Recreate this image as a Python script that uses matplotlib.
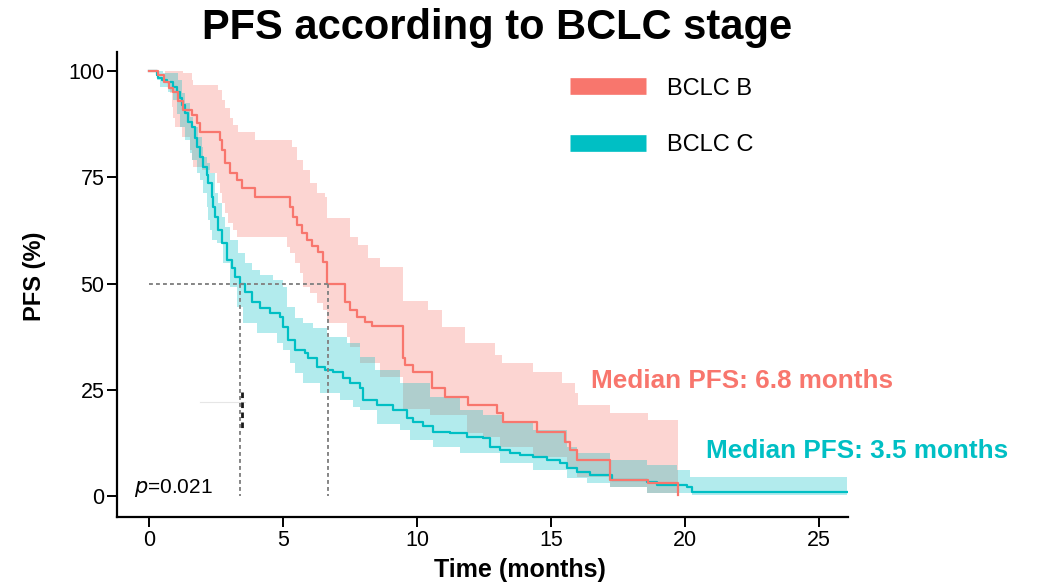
import numpy as np
import matplotlib
matplotlib.use("Agg")
import matplotlib.pyplot as plt
from matplotlib.lines import Line2D

plt.rcParams['font.family'] = ['Liberation Sans', 'DejaVu Sans']

RED = '#F8766D'
CYAN = '#00BFC4'

# ---- BCLC B (red) : survival step function ----
b_t = [0, 0.34, 0.55, 0.75, 0.9, 1.08, 1.27, 1.6, 1.79, 1.9, 2.65, 2.72, 2.84, 3.02, 3.28,
       3.47, 3.96, 5.26, 5.37, 5.52, 5.71, 5.9, 6.08, 6.31, 6.49, 6.66, 7.31, 7.5, 7.76,
       8.06, 8.32, 9.48, 9.55, 9.85, 10.56, 11.04, 11.9, 12.99, 13.2, 14.48, 15.52,
       15.71, 15.97, 17.2, 18.62, 19.74]
b_s = [100, 99, 97.5, 96, 95, 93, 90.8, 89.6, 87.8, 85.6, 83.8, 81.5, 78.4, 76, 74.4,
       72.5, 70.4, 68, 65.6, 63.8, 61.9, 60.2, 58.8, 57.4, 55.1, 50, 45.6, 43.8, 42.1,
       41, 40, 32.5, 30.8, 29.2, 25.4, 23.3, 21.4, 19.5, 17.4, 15.1, 12.7,
       10.8, 8.5, 3.8, 3.0, 0.2]

b_up_t = [0, 1.27, 1.6, 1.64, 2.57, 2.72, 2.84, 3.02, 3.13, 3.32, 3.96, 5.34, 5.52, 5.75,
          6.0, 6.27, 6.57, 6.64, 7.5, 7.8, 8.17, 8.62, 9.48, 10.41, 10.93, 11.79, 12.91,
          13.17, 14.33, 15.41, 15.9, 16.0, 17.2, 18.62]
b_up = [100, 99.5, 97.9, 96.7, 95.5, 93.2, 91.3, 89, 87.3, 85.6, 83.8, 82.1, 79, 76.7,
        73.6, 71.3, 70.4, 65.4, 61, 59, 56, 53.9, 46, 43.8, 39.8, 36, 33.2,
        31.3, 29.2, 26.6, 24.2, 21.5, 19.5, 17.9]

b_lo_t = [0, 0.6, 0.78, 0.86, 0.9, 0.97, 1.23, 1.53, 1.6, 1.64, 1.98, 2.28, 2.54, 2.65,
          2.72, 2.84, 2.95, 3.13, 3.28, 5.15, 5.26, 5.45, 5.63, 5.75, 6.0, 6.27, 6.49,
          6.64, 7.39, 7.5, 7.87, 8.62, 9.48, 10.49, 11.87, 12.46, 13.1, 14.33, 15.6,
          15.97, 17.2, 18.58]
b_lo = [100, 97.9, 94.8, 91.5, 89, 86.8, 84.5, 81.4, 79, 77.4, 76.7, 76, 73.6, 71.3,
        68.9, 66.6, 64.2, 62.6, 61, 58.6, 57.2, 54.8, 52.5, 49.2, 47.8, 45.4, 43.8,
        40.7, 37.4, 35, 31.3, 28, 20.5, 19, 14.8, 13.9, 11.5, 9.2, 6.8,
        4.5, 2.1, 0.7]
b_end = 19.74

# ---- BCLC C (cyan) : survival step function ----
c_t = [0, 0.3, 0.34, 0.49, 0.67, 0.9, 1.04, 1.16, 1.23, 1.34, 1.46, 1.6, 1.72, 1.79, 1.9,
       2.01, 2.16, 2.2, 2.35, 2.39, 2.46, 2.57, 2.72, 2.91, 3.1, 3.21, 3.4, 3.58, 3.84,
       4.14, 4.51, 4.89, 5.0, 5.19, 5.45, 5.82, 5.93, 6.27, 6.57, 6.87, 7.24, 7.5, 7.87,
       7.99, 8.51, 9.1, 9.63, 9.85, 10.22, 10.6, 11.23, 11.87, 12.46, 12.72, 13.1, 13.47,
       13.84, 14.33, 14.85, 15.34, 15.6, 15.97, 16.46, 17.28, 18.58, 18.96, 20.07, 20.26]
c_s = [100, 99, 98.4, 97.9, 97.4, 96.2, 95, 93.6, 92, 90.1, 88, 86.8, 84.2, 82.1, 79.8,
       77.4, 75.5, 73.6, 70.4, 68, 65.6, 62.6, 59.5, 55.5, 53.6, 51.5, 50, 48, 45.6,
       44.2, 43, 42.1, 39.8, 36.7, 34.4, 33.6, 32.5, 30.4, 29.6, 29.2, 27.8, 26.6, 25.4,
       22.6, 21.4, 20.2, 18.4, 17.4, 16.5, 15.1, 14.8, 13.9, 13.6, 11.5, 10.8, 10.1,
       9.6, 9.2, 8.5, 7.8, 6.6, 5.6, 4.9, 3.8, 3.3, 2.6, 2.1, 1.0]

c_up_t = [0, 0.52, 1.08, 1.23, 1.34, 1.53, 1.64, 1.83, 1.98, 2.01, 2.16, 2.28, 2.46, 2.57,
          2.72, 2.84, 3.02, 3.32, 3.58, 3.84, 4.14, 4.63, 5.0, 5.15, 5.45, 5.75, 6.12,
          6.64, 7.39, 7.87, 8.43, 9.37, 10.49, 11.6, 12.46, 13.2, 14.33, 15.6, 15.97,
          17.2, 18.58, 19.7, 20.2]
c_up = [100, 99.5, 97.9, 94.8, 92.5, 89.2, 86.8, 84.5, 82.1, 79.8, 78.4, 76, 71.3, 68.9,
        65.6, 63.3, 60.2, 57.2, 54.8, 53.2, 52, 50.8, 49.2, 44.5, 41.9, 40.7, 39.5,
        37.4, 36, 32.7, 29.6, 26.6, 23.3, 20.2, 19, 17.4, 15.5, 11.5, 10.1,
        8.5, 7.3, 6.1, 4.5]

c_lo_t = [0, 0.3, 0.41, 0.71, 0.9, 1.04, 1.16, 1.34, 1.53, 1.6, 1.79, 1.9, 2.01, 2.16,
          2.2, 2.28, 2.35, 2.54, 2.76, 3.02, 3.28, 3.51, 4.03, 4.78, 5.0, 5.26, 5.45,
          5.75, 6.38, 7.13, 7.61, 7.87, 8.5, 9.37, 9.74, 10.6, 11.6, 13.1, 14.33, 15.6,
          16.34, 17.2, 18.58, 20.26]
c_lo = [100, 97.9, 96.2, 95, 93.2, 90, 86.8, 83.8, 80.7, 79, 76, 74.4, 71.3, 68,
        65, 62.6, 60.2, 59.5, 54.8, 49.2, 44.5, 40.7, 38.4, 36, 34.4, 31.3, 28.9,
        26.6, 24.2, 22.6, 20.9, 20.2, 17, 15.5, 13.2, 11.5, 10.1, 7.8, 6.1, 4.2,
        3, 2.1, 0.8, 0.3]
c_end = 26.04

# medians, labels
med_b = 6.68
med_c = 3.4
labels = ['BCLC B', 'BCLC C']
x_ticks = [0, 5, 10, 15, 20, 25]
y_ticks = [0, 25, 50, 75, 100]


def step_eval(times, vals, grid):
    idx = np.searchsorted(np.asarray(times), grid, side='right') - 1
    return np.asarray(vals)[np.clip(idx, 0, len(vals) - 1)]


fig = plt.figure(figsize=(10.38, 5.86), dpi=100)
ax = fig.add_axes([117 / 1038, 1 - 517 / 586, (848 - 117) / 1038, (517 - 52) / 586])


def draw_band(tt_up, up, tt_lo, lo, end, color):
    grid = np.unique(np.concatenate([tt_up, tt_lo, [end]]))
    grid = grid[grid <= end]
    u = step_eval(tt_up, up, grid)
    l = step_eval(tt_lo, lo, grid)
    ax.fill_between(grid, l, u, step='post', color=color, alpha=0.3, linewidth=0)


def draw_curve(tt, ss, end, color):
    x = np.append(tt, end)
    y = np.append(ss, ss[-1])
    ax.step(x, y, where='post', color=color, lw=1.6, zorder=3)


draw_band(b_up_t, b_up, b_lo_t, b_lo, b_end, RED)
draw_band(c_up_t, c_up, c_lo_t, c_lo, c_end, CYAN)
draw_curve(c_t, c_s, c_end, CYAN)
draw_curve(b_t, b_s, b_end, RED)

# median lines
dash = (0, (2.0, 1.6))
ax.plot([0, med_b], [50, 50], color='#858585', lw=1.4, ls=dash, zorder=4)
ax.plot([med_c, med_c], [50, 0], color='#858585', lw=1.4, ls=dash, zorder=4)
ax.plot([med_b, med_b], [50, 0], color='#858585', lw=1.4, ls=dash, zorder=4)
# small artefacts seen in the reference
ax.plot([1.9, 3.58], [22.1, 22.1], color='#e6e6e6', lw=0.8, zorder=2)
ax.plot([3.47, 3.47], [24.5, 15.5], color='#1a1a1a', lw=2.0, ls=(0, (2.0, 1.6)), zorder=5)

ax.set_xlim(-1.19, 26.08)
ax.set_ylim(-4.94, 104.5)
ax.set_xticks(x_ticks)
ax.set_yticks(y_ticks)
ax.tick_params(axis='both', labelsize=15.5, length=7, width=1.4, pad=2, colors='black')
for s in ['top', 'right']:
    ax.spines[s].set_visible(False)
for s in ['left', 'bottom']:
    ax.spines[s].set_linewidth(1.6)

# legend
handles = [Line2D([0], [0], color=RED, lw=12, solid_capstyle='butt'),
           Line2D([0], [0], color=CYAN, lw=12, solid_capstyle='butt')]
ax.legend(handles, labels, loc='upper left', bbox_to_anchor=(0.607, 0.965), frameon=False,
          fontsize=17, handlelength=3.2, handletextpad=0.9, labelspacing=1.45,
          borderaxespad=0)

# texts
ax.text(16.5, 27.0, 'Median PFS: 6.8 months', color=RED, fontsize=18.8, fontweight='bold',
        va='center', ha='left', clip_on=False)
ax.text(20.8, 10.6, 'Median PFS: 3.5 months', color=CYAN, fontsize=18.8, fontweight='bold',
        va='center', ha='left', clip_on=False)
ax.text(-0.55, 1.8, r'$p$=0.021', fontsize=15, va='center', ha='left')

fig.text(497 / 1038, 1 - 28 / 586, 'PFS according to BCLC stage', fontsize=30,
         fontweight='bold', ha='center', va='center')
fig.text(35 / 1038, 1 - 276 / 586, 'PFS (%)', fontsize=17, fontweight='bold',
         rotation=90, ha='center', va='center')
fig.text(520 / 1038, 1 - 570 / 586, 'Time (months)', fontsize=18, fontweight='bold',
         ha='center', va='center')

fig.savefig('out.png', dpi=100)
